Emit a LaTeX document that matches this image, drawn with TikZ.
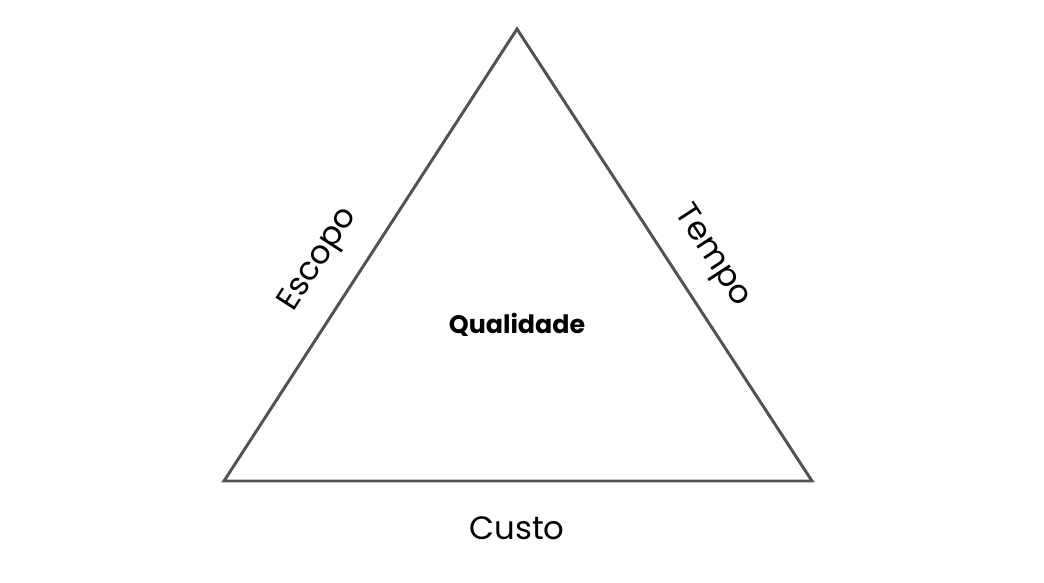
\documentclass[tikz,border=0pt]{standalone}
\usepackage{fontspec}
\setmainfont{Poppins}
\usetikzlibrary{positioning}

\begin{document}
\begin{tikzpicture}[x=0.025cm, y=-0.025cm,
    lado/.style={draw=black!68, line width=2.1pt, line join=miter},
    rotulo/.style={font=\fontsize{23}{26}\selectfont, text=black},
    centro/.style={font=\fontsize{18}{21}\selectfont\bfseries, text=black}]
    % area da figura
    \useasboundingbox (0,0) rectangle (1044,583);

    % vertices do triangulo
    \coordinate (topo) at (517,29);
    \coordinate (esq) at (224,481);
    \coordinate (dir) at (812,481);

    % lados com rotulos
    \draw[lado] (esq) -- node[rotulo, pos=0.44, sloped, above=0.47cm] (escopo) {Escopo} (topo)
        -- node[rotulo, pos=0.55, sloped, above=0.43cm] (tempo) {Tempo} (dir)
        -- cycle;

    % rotulos de baixo e do centro
    \node[rotulo] (custo) at (517,528) {Custo};
    \node[centro] (qualidade) at (517,325) {Qualidade};
\end{tikzpicture}
\end{document}
